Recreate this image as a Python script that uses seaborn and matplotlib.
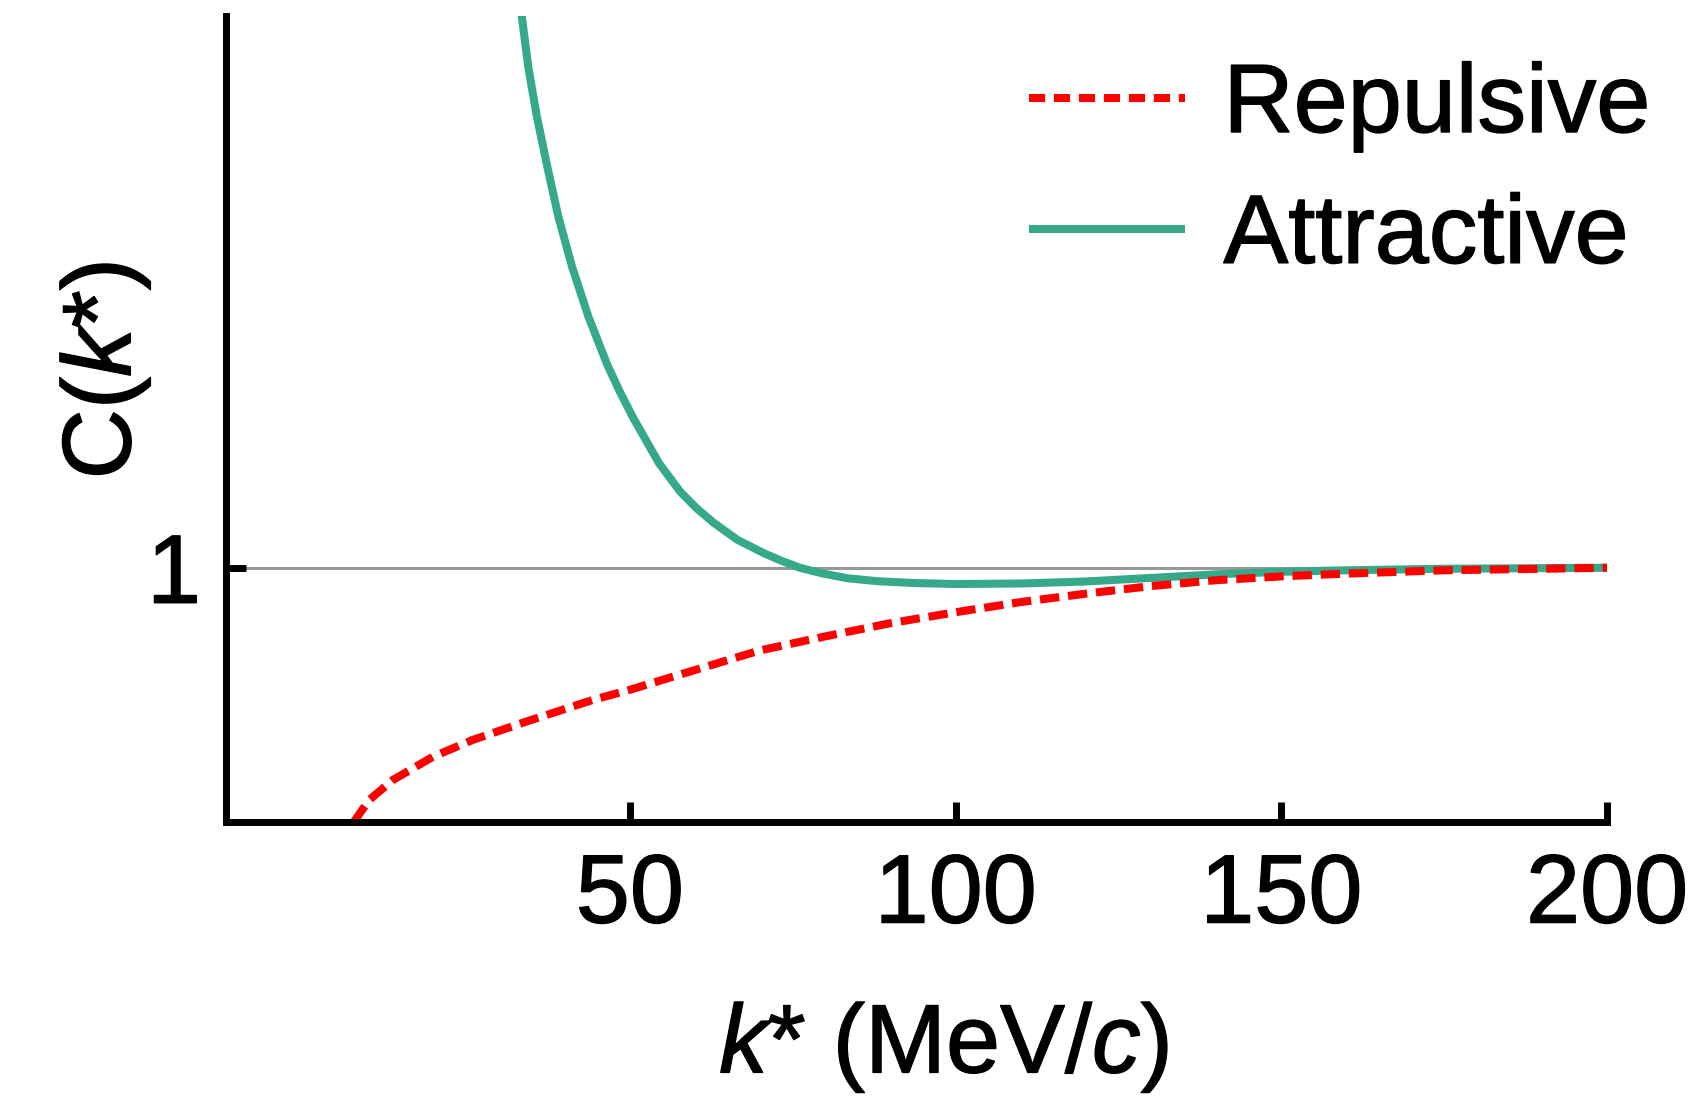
import numpy as np
import pandas as pd
import matplotlib
matplotlib.use("Agg")
import matplotlib.pyplot as plt
import matplotlib.patheffects as pe
import seaborn as sns

# ---- data ----
attr_k = [33.3, 34.4, 35.7, 37.3, 39.0, 41.1, 43.6, 46.5, 48.5, 50.5, 52.5, 54.5, 57.7, 60.2,
          62.8, 66.5, 70.5, 73.3, 76.1, 79.5, 83.3, 88, 93.5, 100, 110, 120, 130, 140, 150,
          160, 175, 200]
attr_c = [3.19, 2.97, 2.777, 2.58, 2.383, 2.186, 1.99, 1.80, 1.69, 1.59, 1.50, 1.41, 1.30,
          1.235, 1.178, 1.11, 1.058, 1.027, 1.0, 0.978, 0.959, 0.947, 0.94, 0.936, 0.938,
          0.946, 0.96, 0.974, 0.984, 0.99, 0.996, 1.0]
rep_k = [7.6, 10, 13.6, 19.8, 25.9, 34.1, 44.3, 50, 54.5, 64.8, 70, 80, 90, 100, 110, 120,
         130, 140, 150, 160, 175, 200]
rep_c = [0, 0.087, 0.165, 0.257, 0.323, 0.395, 0.48, 0.52, 0.555, 0.635, 0.675, 0.73, 0.782,
         0.825, 0.865, 0.898, 0.928, 0.951, 0.966, 0.977, 0.99, 1.0]
x_ticks = [50, 100, 150, 200]
y_ticks = [1]
series_names = ["Repulsive", "Attractive"]

sns.set_style("ticks")
plt.rcParams["font.family"] = ["Liberation Sans", "DejaVu Sans"]
plt.rcParams["mathtext.fontset"] = "custom"
plt.rcParams["mathtext.rm"] = "Liberation Sans"
plt.rcParams["mathtext.it"] = "Liberation Sans:italic"
plt.rcParams["text.color"] = "black"
plt.rcParams["axes.labelcolor"] = "black"

FS = 70
LW = 5.8
SW = 5.0
DASH = (2.4, 1.1)
LEG_DASH = (2.0, 1.1)
BOLDEN = [pe.withStroke(linewidth=1.0, foreground="black")]

fig = plt.figure(figsize=(17.02, 10.96), dpi=100)
ax = fig.add_axes([226 / 1702, 1 - 822 / 1096, (1607 - 226) / 1702, (822 - 16) / 1096])
ax.set_axisbelow(False)

df_rep = pd.DataFrame({"k": rep_k, "C": rep_c})
df_att = pd.DataFrame({"k": attr_k, "C": attr_c})

ax.axhline(1, color="#999999", lw=2.2, zorder=0.3)
sns.lineplot(data=df_rep, x="k", y="C", ax=ax, color="#ff0000",
             label=series_names[0], zorder=4)
sns.lineplot(data=df_att, x="k", y="C", ax=ax, color="#37a98b",
             label=series_names[1], zorder=3)
red_line = ax.lines[1]
green_line = ax.lines[2]
for ln in (red_line, green_line):
    ln.set_linewidth(LW)
    ln.set_solid_capstyle("butt")
    ln.set_solid_joinstyle("round")
red_line.set_linestyle((0, DASH))

ax.set_xlim(-12, 200)
ax.set_ylim(0, 3.17)

sns.despine(ax=ax)
for s in ["left", "bottom"]:
    ax.spines[s].set_linewidth(SW)
    ax.spines[s].set_color("black")
    ax.spines[s].set_zorder(5)

ax.set_xticks(x_ticks)
ax.set_xticklabels([str(t) for t in x_ticks])
ax.set_yticks(y_ticks)
ax.set_yticklabels([str(t) for t in y_ticks])
ax.tick_params(axis="both", direction="in", length=14.5, width=SW, color="black",
               labelsize=FS, labelcolor="black")
ax.tick_params(axis="x", pad=22)
ax.tick_params(axis="y", pad=18)

ax.set_xlabel(r"$k$* (MeV/$c$)", fontsize=FS, labelpad=0)
ax.xaxis.set_label_coords(0.52, -0.222)
ax.set_ylabel(r"C($k$*)", fontsize=FS, labelpad=0)
ax.yaxis.set_label_coords(-0.053, 0.56)

leg = ax.legend(loc="upper left", bbox_to_anchor=(1029 / 1702, 1 - 62 / 1096),
                bbox_transform=fig.transFigure, frameon=False, fontsize=FS,
                handlelength=1.6, handletextpad=0.40, labelspacing=0.42,
                borderpad=0, borderaxespad=0)
lh = leg.get_lines()
for h in lh:
    h.set_linewidth(LW)
lh[0].set_linestyle((0, LEG_DASH))

for t in (ax.get_xticklabels() + ax.get_yticklabels() + leg.get_texts()
          + [ax.xaxis.label, ax.yaxis.label]):
    t.set_path_effects(BOLDEN)

fig.savefig("out.png", dpi=100)
